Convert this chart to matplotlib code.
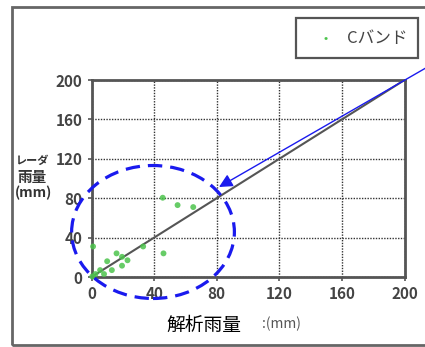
import matplotlib.pyplot as plt
from matplotlib.patches import Ellipse, Rectangle

# 解析雨量 / レーダ雨量 (mm)
kaiseki = [1, 16, 19.5, 23, 19.5, 10, 13, 5.5, 2.5, 46, 33, 45.5, 55, 65, 0.5, 8]
radar = [31, 24, 20.5, 17, 11.5, 16, 7, 7, 3, 24, 31, 80.5, 73, 71, 0.5, 3]
ticks = [0, 40, 80, 120, 160, 200]
series_name = "Cバンド"

plt.rcParams['font.family'] = ['Liberation Sans Narrow', 'Noto Sans CJK JP', 'DejaVu Sans']

fig = plt.figure(figsize=(4.25, 3.47), dpi=100)
ax = fig.add_axes([0.2153, 0.2017, 0.7365, 0.5677])

ax.plot([0, 200], [0, 200], color='#555555', lw=1.5, zorder=2)
ax.scatter(kaiseki, radar, s=18, color='#4cc44c', alpha=0.85, edgecolors='none',
           zorder=3, clip_on=False)

ax.set_xlim(0, 200)
ax.set_ylim(0, 200)
ax.set_xticks(ticks)
ax.set_yticks(ticks)
ax.grid(True, color='#333333', linestyle=(0, (1, 1)), lw=1.0)
for s in ax.spines.values():
    s.set_color('#555555')
    s.set_linewidth(2)
ax.tick_params(colors='#555555', labelcolor='#444444', labelsize=11, length=3, width=1.2)
for lab in ax.get_xticklabels() + ax.get_yticklabels():
    lab.set_fontweight('bold')

# dashed ellipse
ell = Ellipse((39.3, 45.7), 104, 135, fill=False, edgecolor='#1a1aee',
              lw=2.3, linestyle=(0, (4.5, 2.5)), clip_on=False, zorder=5)
ax.add_patch(ell)

# arrow from outside
ax.annotate("", xy=(219 / 425, 1 - 187 / 347), xycoords='figure fraction',
            xytext=(1.01, 1 - 66 / 347), textcoords='figure fraction',
            arrowprops=dict(arrowstyle='-|>', color='#1a1aee', lw=1.0,
                            mutation_scale=20, shrinkA=0, shrinkB=0),
            annotation_clip=False, zorder=6)

# legend box
fig.patches.append(Rectangle((296 / 425, 1 - 58 / 347), 122 / 425, 40 / 347,
                             transform=fig.transFigure, fill=False,
                             edgecolor='#555555', lw=1.6))
fig.text(326 / 425, 1 - 39 / 347, "•", color='#4cc44c', fontsize=9,
         ha='center', va='center')
fig.text(347 / 425, 1 - 38 / 347, series_name, color='#444444', fontsize=12,
         ha='left', va='center', family=['Noto Sans CJK JP'])

# outer frame
fig.patches.append(Rectangle((12 / 425, 2 / 347), 1.05, 1 - 9 / 347,
                             transform=fig.transFigure, fill=False,
                             edgecolor='#666666', lw=2, clip_on=False))

# axis labels
fig.text(33 / 425, 1 - 160 / 347, "レーダ", color='#333333', fontsize=8,
         ha='center', va='center', fontweight='bold', family=['Noto Sans CJK JP'])
fig.text(32 / 425, 1 - 177 / 347, "雨量", color='#333333', fontsize=10.5,
         ha='center', va='center', fontweight='bold', family=['Noto Sans CJK JP'])
fig.text(33 / 425, 1 - 193 / 347, "(mm)", color='#333333', fontsize=10,
         ha='center', va='center', fontweight='bold')
fig.text(204 / 425, 1 - 325 / 347, "解析雨量", color='black', fontsize=13.5,
         ha='center', va='center', family=['Noto Sans CJK JP'])
fig.text(262 / 425, 1 - 324 / 347, ":(mm)", color='#555555', fontsize=10,
         ha='left', va='center')

fig.savefig("out.png", dpi=100)
